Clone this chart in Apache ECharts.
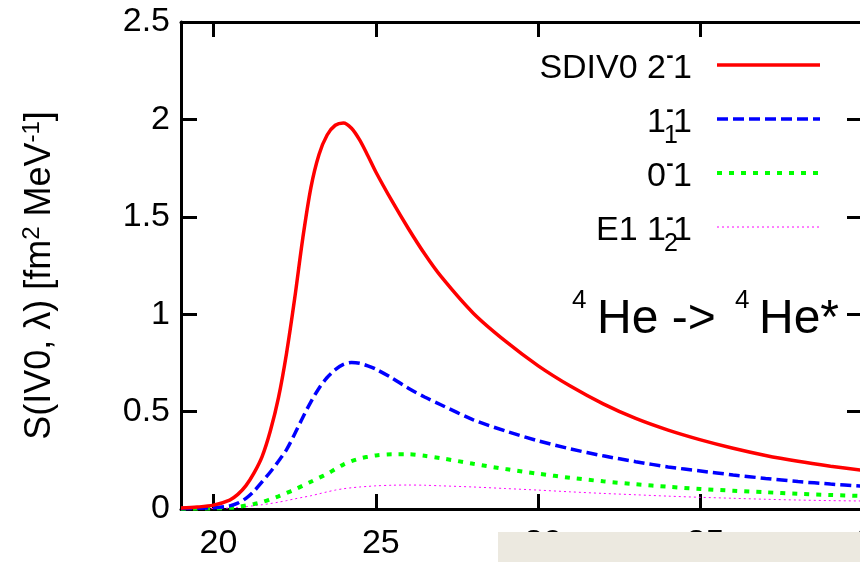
<!DOCTYPE html>
<html>
<head>
<meta charset="utf-8">
<script src="https://cdn.jsdelivr.net/npm/echarts@6/dist/echarts.min.js"></script>
<style>
  html, body { margin: 0; padding: 0; background: #fff; }
  #chart { width: 860px; height: 562px; }
</style>
</head>
<body>
<div id="chart"></div>
<script>
// ---- data ----
const energies = [19, 19.5, 20, 20.5, 20.75, 21, 21.25, 21.5, 21.75, 22, 22.25, 22.5, 22.75, 23, 23.25, 23.5, 23.75,
                  24, 24.25, 24.5, 24.75, 25, 25.5, 26, 26.5, 27, 28, 29, 30, 31, 32, 33, 34, 35, 36, 37, 38, 39, 40];
const sdiv0_2m1 = [0.005, 0.01, 0.02, 0.046, 0.075, 0.12, 0.185, 0.27, 0.40, 0.57, 0.80, 1.08, 1.39, 1.65, 1.82, 1.92, 1.97,
                   1.982, 1.955, 1.895, 1.815, 1.73, 1.58, 1.44, 1.31, 1.195, 1.005, 0.86, 0.735, 0.63, 0.54, 0.465, 0.405,
                   0.355, 0.312, 0.275, 0.245, 0.22, 0.198];
const s_1m1_1 = [0.002, 0.004, 0.007, 0.016, 0.03, 0.055, 0.092, 0.14, 0.19, 0.245, 0.305, 0.385, 0.47, 0.55, 0.62, 0.675, 0.715,
                 0.742, 0.752, 0.748, 0.735, 0.718, 0.672, 0.62, 0.575, 0.535, 0.458, 0.40, 0.35, 0.308, 0.273, 0.243, 0.216,
                 0.195, 0.175, 0.157, 0.141, 0.128, 0.117];
const s_0m1 = [0.001, 0.002, 0.003, 0.006, 0.011, 0.018, 0.026, 0.036, 0.05, 0.065, 0.082, 0.10, 0.12, 0.14, 0.16, 0.18, 0.205,
               0.228, 0.246, 0.259, 0.268, 0.275, 0.281, 0.281, 0.273, 0.261, 0.232, 0.205, 0.181, 0.16, 0.142, 0.127, 0.114,
               0.103, 0.094, 0.086, 0.078, 0.072, 0.067];
const e1_1m1_2 = [0.0, 0.001, 0.002, 0.005, 0.008, 0.012, 0.017, 0.022, 0.028, 0.035, 0.043, 0.052, 0.06, 0.068, 0.078, 0.088, 0.097,
                  0.104, 0.109, 0.113, 0.116, 0.119, 0.122, 0.123, 0.122, 0.119, 0.113, 0.105, 0.097, 0.088, 0.08, 0.073, 0.066,
                  0.06, 0.055, 0.05, 0.046, 0.043, 0.041];
const xTicks = [20, 25, 30, 35, 40];
const yTickLabels = ['0', '0.5', '1', '1.5', '2', '2.5'];
const seriesNames = ['SDIV0 2-1', '1-1 1', '0-1', 'E1 1-2 1'];

// ---- chart ----
const FONT = "'Liberation Sans', Arial, sans-serif";
const chart = echarts.init(document.getElementById('chart'), null, { renderer: 'canvas' });

function pairs(ys) { return energies.map((x, i) => [x, ys[i]]); }

const styles = [
  { color: '#ff0000', width: 3.5, type: 'solid' },
  { color: '#0000ff', width: 3.5, type: [11, 5] },
  { color: '#00ff00', width: 4, type: [5, 7] },
  { color: '#ff00ff', width: 1, type: [2, 3] }
];
const seriesData = [sdiv0_2m1, s_1m1_1, s_0m1, e1_1m1_2];

const axisLineStyle = { color: '#000', width: 3 };

// legend rows built as text pieces
const legendRows = [
  { y: 65, base: 'SDIV0 2', sub: null },
  { y: 119, base: '1', sub: '1' },
  { y: 173, base: '0', sub: null },
  { y: 227, base: 'E1 1', sub: '2' }
];
const graphics = [];
legendRows.forEach((r, i) => {
  const cy = r.y + 4;
  graphics.push({ type: 'text', x: 692, y: cy, style: { text: '1', font: '34px ' + FONT, fill: '#000', align: 'right', verticalAlign: 'middle' } });
  graphics.push({ type: 'text', x: 670, y: cy - 13, style: { text: '-', font: 'bold 22px ' + FONT, fill: '#000', align: 'center', verticalAlign: 'middle' } });
  if (r.sub) {
    graphics.push({ type: 'text', x: 671, y: cy + 13, style: { text: r.sub, font: '25px ' + FONT, fill: '#000', align: 'center', verticalAlign: 'middle' } });
  }
  graphics.push({ type: 'text', x: 666, y: cy, style: { text: r.base, font: '34px ' + FONT, fill: '#000', align: 'right', verticalAlign: 'middle' } });
  const st = styles[i];
  graphics.push({ type: 'line', shape: { x1: 717, y1: r.y, x2: 820, y2: r.y },
    style: { stroke: st.color, lineWidth: st.width, lineDash: st.type === 'solid' ? null : st.type } });
});
// reaction annotation
graphics.push({ type: 'text', x: 572, y: 301, style: { text: '4', font: '26px ' + FONT, fill: '#000', align: 'left', verticalAlign: 'middle' } });
graphics.push({ type: 'text', x: 597, y: 320, style: { text: 'He -> ', font: '48px ' + FONT, fill: '#000', align: 'left', verticalAlign: 'middle' } });
graphics.push({ type: 'text', x: 735, y: 301, style: { text: '4', font: '26px ' + FONT, fill: '#000', align: 'left', verticalAlign: 'middle' } });
graphics.push({ type: 'text', x: 759, y: 320, style: { text: 'He*', font: '48px ' + FONT, fill: '#000', align: 'left', verticalAlign: 'middle' } });
// beige patch at bottom right of the picture
graphics.push({ type: 'rect', z: 100, shape: { x: 498, y: 532, width: 362, height: 30 }, style: { fill: '#ece9e0' } });

const option = {
  animation: false,
  backgroundColor: '#fff',
  grid: { left: 181, top: 22, width: 682, height: 487, containLabel: false, outerBoundsMode: 'none' },
  xAxis: [
    {
      type: 'value', min: 19, max: 40, position: 'bottom',
      axisLine: { show: true, onZero: false, lineStyle: axisLineStyle },
      axisTick: { show: true, inside: true, length: 15, lineStyle: axisLineStyle, customValues: xTicks },
      axisLabel: { show: true, customValues: xTicks, fontSize: 34, fontFamily: FONT, color: '#000', margin: 18, padding: [0, 0, 0, 10],
        hideOverlap: false },
      splitLine: { show: false }
    },
    {
      type: 'value', min: 19, max: 40, position: 'top',
      axisLine: { show: true, onZero: false, lineStyle: axisLineStyle },
      axisTick: { show: true, inside: true, length: 15, lineStyle: axisLineStyle, customValues: xTicks },
      axisLabel: { show: false },
      splitLine: { show: false }
    }
  ],
  yAxis: [
    {
      type: 'value', min: 0, max: 2.5, interval: 0.5, position: 'left',
      axisLine: { show: true, onZero: false, lineStyle: axisLineStyle },
      axisTick: { show: true, inside: true, length: 16, lineStyle: axisLineStyle },
      axisLabel: { show: true, fontSize: 34, fontFamily: FONT, color: '#000', margin: 11,
        formatter: (v) => yTickLabels[Math.round(v / 0.5)] },
      splitLine: { show: false },
      name: 'S(IV0, λ) [fm{s|2} MeV{s|-1}]',
      nameLocation: 'middle',
      nameRotate: 90,
      nameGap: 121,
      nameTextStyle: {
        fontSize: 36, fontFamily: FONT, color: '#000', padding: [0, 20, 0, 0],
        rich: { s: { fontSize: 24, fontFamily: FONT, color: '#000', verticalAlign: 'top', lineHeight: 40 } }
      }
    },
    {
      type: 'value', min: 0, max: 2.5, interval: 0.5, position: 'right',
      axisLine: { show: true, onZero: false, lineStyle: axisLineStyle },
      axisTick: { show: true, inside: true, length: 16, lineStyle: axisLineStyle },
      axisLabel: { show: false },
      splitLine: { show: false }
    }
  ],
  series: seriesData.map((d, i) => ({
    name: seriesNames[i],
    type: 'line',
    xAxisIndex: 0, yAxisIndex: 0,
    data: pairs(d),
    smooth: 0.3,
    showSymbol: false,
    clip: true,
    lineStyle: { color: styles[i].color, width: styles[i].width, type: styles[i].type },
    z: 10 - i
  })),
  graphic: graphics
};
chart.setOption(option);
</script>
</body>
</html>
